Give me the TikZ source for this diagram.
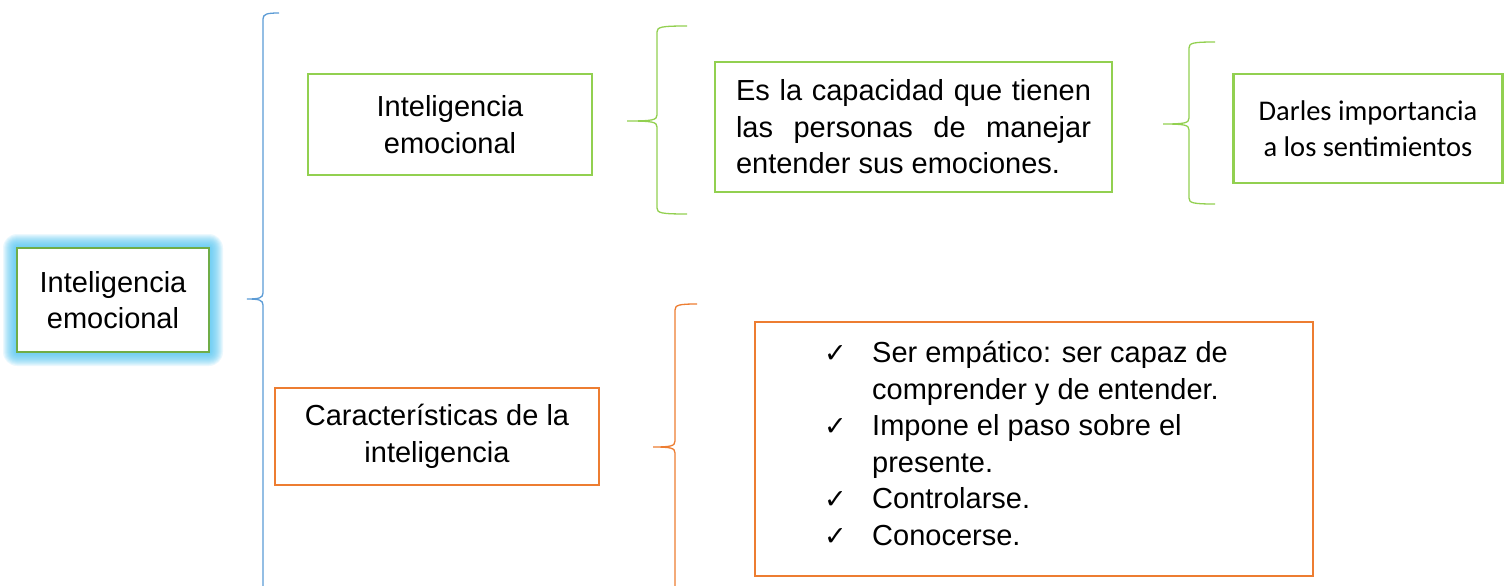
\documentclass[tikz,border=0pt]{standalone}
\usepackage{fontspec}
\setmainfont{Liberation Sans}
\newfontfamily\calibfont{Carlito}
\newfontfamily\symbfont{DejaVu Sans}
\usetikzlibrary{calc}
\definecolor{limegrn}{RGB}{146,208,80}
\definecolor{darkgrn}{RGB}{112,173,71}
\definecolor{orng}{RGB}{237,125,49}
\definecolor{bluebr}{RGB}{91,155,213}
\definecolor{glowblue}{RGB}{80,195,240}
% brace: style, x, top, mid, bottom, tip x, hook x
\newcommand{\curlybr}[7]{\draw[#1] (#7,#3) .. controls ({#2+4},#3) and (#2,{#3+1}) .. (#2,{#3+6}) -- (#2,{#4-6}) .. controls (#2,{#4-1}) and ({#2-4},#4) .. (#6,#4) .. controls ({#2-4},#4) and (#2,{#4+1}) .. (#2,{#4+6}) -- (#2,{#5-6}) .. controls (#2,{#5-1}) and ({#2+4},#5) .. (#7,#5);}
\newcommand{\chk}{{\symbfont\fontsize{27}{36.5}\selectfont ✓}}

\begin{document}
\begin{tikzpicture}[x=1pt,y=-1pt,
		bigtext/.style={font=\fontsize{29}{36.5}\selectfont},
		box/.style={draw, line width=2.8pt, fill=white, inner sep=0pt, align=center, bigtext},
		brline/.style={line width=1.3pt}]
			%%%%% START %%%%%
			\useasboundingbox (0,0) rectangle (1504,586);
			
			% glow round the main box
			\foreach \g in {14,13,...,2}
			\fill[glowblue, opacity=0.11, rounded corners=\g pt] ({17-\g},{248-\g}) rectangle ({209+\g},{352+\g});
			\node[box, draw=darkgrn, minimum width=192pt, minimum height=104pt] (main) at (113,300) {Inteligencia\\emocional};
			
			\curlybr{bluebr, brline}{263}{13}{299}{620}{247}{279}
			
			\node[box, draw=limegrn, minimum width=284pt, minimum height=101pt] (intel) at (450,124.5) {Inteligencia\\emocional};
			\curlybr{limegrn, brline}{657}{26}{121}{214}{627}{687}
			\node[box, draw=limegrn, minimum width=397pt, minimum height=130pt, text width=355pt, align=justify] (defin) at (913.5,127) {Es la capacidad que tienen\linebreak las personas de manejar\linebreak entender sus emociones.};
			\curlybr{limegrn, brline}{1189}{42}{124}{204}{1163}{1215}
			\node[box, draw=limegrn, minimum width=269pt, minimum height=109pt, font=\calibfont\fontsize{28.5}{36}\selectfont] (sentim) at (1368,128.5) {Darles importancia\\a los sentimientos};
			
			\node[box, draw=orng, minimum width=324pt, minimum height=97pt] (carac) at (437,436.5) {Características de la\\inteligencia};
			\curlybr{orng, brline}{675}{304}{447}{620}{653}{697}
			\node[box, draw=orng, minimum width=558pt, minimum height=254pt] (lista) at (1034,449) {};
			\node[anchor=north west, inner sep=0pt, bigtext] (items) at (824,337) {%
				\begin{tabular}{@{}p{48pt}@{}l@{}}
					\chk & Ser empático: ser capaz de\\
					& comprender y de entender.\\
					\chk & Impone el paso sobre el\\
					& presente.\\
					\chk & Controlarse.\\
					\chk & Conocerse.
			\end{tabular}};
			
			%%%%% END %%%%%
		\end{tikzpicture}
\end{document}
